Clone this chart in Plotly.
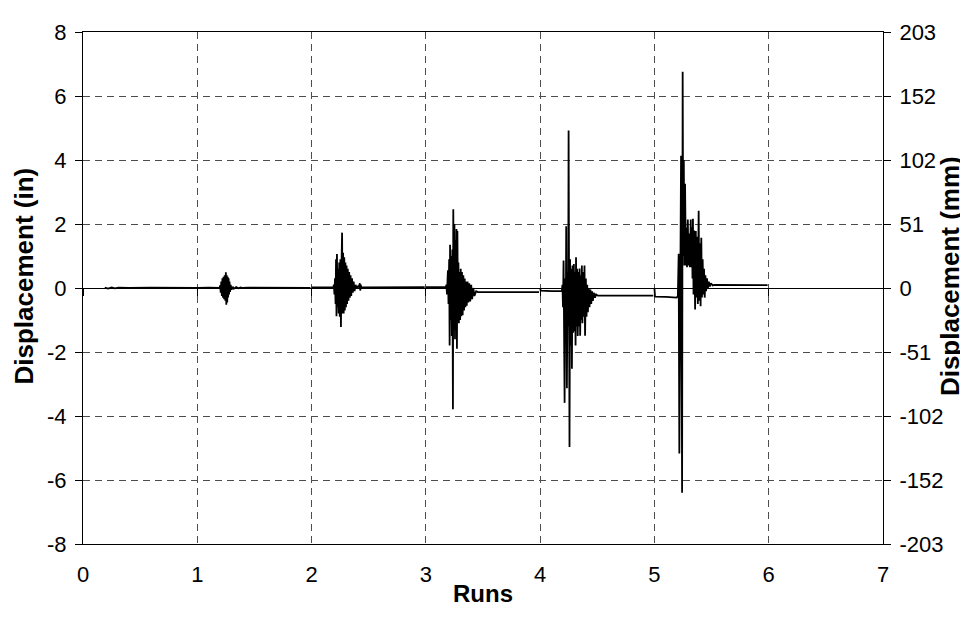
import plotly.graph_objects as go

# ---- data ----
run1_x = [0.190, 0.220, 0.250, 0.280, 0.310, 0.400, 0.600, 0.800, 1.000, 1.100, 1.195,
          1.200, 1.205, 1.210, 1.215, 1.220, 1.225, 1.230, 1.235, 1.240, 1.245, 1.250,
          1.254, 1.258, 1.262, 1.266, 1.270, 1.274, 1.278, 1.282, 1.287, 1.292, 1.300,
          1.310, 1.320, 1.340, 1.360, 1.380, 1.400, 1.440, 1.700, 1.990]
run1_y = [0.01, -0.02, 0.02, -0.01, 0.01, 0.00, 0.01, 0.00, 0.00, 0.01, 0.00,
          0.08, -0.15, 0.20, -0.25, 0.30, -0.30, 0.35, -0.35, 0.40, -0.40, 0.49,
          -0.52, 0.40, -0.45, 0.35, -0.30, 0.30, -0.20, 0.20, -0.12, 0.10, -0.05,
          0.04, -0.02, 0.03, -0.01, 0.02, 0.00, 0.01, 0.00, 0.00]

run2_x = [2.000, 2.100, 2.190, 2.195, 2.200, 2.205, 2.210, 2.214, 2.218, 2.222, 2.227,
          2.232, 2.237, 2.242, 2.247, 2.252, 2.257, 2.262, 2.267, 2.271, 2.276, 2.281,
          2.286, 2.291, 2.296, 2.301, 2.306, 2.311, 2.317, 2.323, 2.329, 2.335, 2.341,
          2.347, 2.354, 2.361, 2.368, 2.376, 2.385, 2.395, 2.405, 2.415, 2.422, 2.426,
          2.430, 2.436, 2.700, 2.850, 2.990]
run2_y = [0.02, 0.01, 0.02, 0.10, -0.20, 0.30, -0.50, 0.90, -0.88, 1.06, -0.60,
          0.60, -0.80, 0.80, -0.90, 0.90, -1.22, 0.70, 1.73, -0.80, 1.10, -0.80,
          0.96, -0.70, 0.80, -0.60, 0.70, -0.50, 0.60, -0.40, 0.50, -0.30, 0.40,
          -0.25, 0.30, -0.15, 0.20, -0.10, 0.10, 0.00, 0.05, 0.03, 0.15, -0.08,
          0.10, 0.02, 0.03, 0.02, 0.03]

run3_x = [3.000, 3.100, 3.175, 3.180, 3.185, 3.193, 3.198, 3.204, 3.208, 3.212, 3.217,
          3.222, 3.227, 3.232, 3.237, 3.240, 3.245, 3.250, 3.255, 3.260, 3.264, 3.268,
          3.272, 3.276, 3.281, 3.285, 3.289, 3.294, 3.300, 3.305, 3.310, 3.316, 3.322,
          3.328, 3.334, 3.340, 3.346, 3.352, 3.358, 3.365, 3.372, 3.380, 3.388, 3.397,
          3.405, 3.415, 3.425, 3.440, 3.456, 3.700, 3.850, 3.990]
run3_y = [0.03, 0.03, 0.03, 0.10, -0.20, 0.55, -0.50, 0.90, -1.80, 1.35, -1.00,
          1.00, -1.50, 1.20, -3.79, 2.46, -1.30, 2.00, -1.60, 1.50, -1.00, 1.84,
          -1.90, 1.78, -1.00, 0.80, -1.10, 0.50, -1.00, 0.60, -0.88, 0.50, -0.85,
          0.40, -0.70, 0.30, -0.60, 0.20, -0.55, 0.20, -0.45, 0.15, -0.42, 0.10,
          -0.35, 0.00, -0.25, -0.10, -0.13, -0.13, -0.12, -0.13]

run4_x = [4.000, 4.005, 4.100, 4.190, 4.195, 4.200, 4.205, 4.210, 4.214, 4.219, 4.224,
          4.228, 4.234, 4.240, 4.245, 4.249, 4.257, 4.262, 4.268, 4.273, 4.278, 4.283,
          4.289, 4.295, 4.300, 4.305, 4.310, 4.314, 4.319, 4.324, 4.329, 4.335, 4.340,
          4.345, 4.350, 4.356, 4.361, 4.365, 4.370, 4.377, 4.383, 4.388, 4.393, 4.400,
          4.406, 4.412, 4.418, 4.425, 4.432, 4.440, 4.447, 4.455, 4.461, 4.470, 4.480,
          4.490, 4.505, 4.700, 4.850, 4.990]
run4_y = [0.00, -0.08, -0.10, -0.10, 0.10, -0.60, 0.86, -1.20, -3.59, 0.30, -1.50,
          1.93, -3.13, 0.50, -1.20, 4.92, -4.97, 0.90, -1.80, 0.60, -2.52, 0.70,
          -1.40, 0.75, -1.35, 0.50, -1.80, 0.96, -1.20, 0.60, -1.50, 0.50, -1.20,
          0.61, -1.49, 0.40, -1.00, 0.70, -1.10, 0.50, -0.90, 0.70, -1.49, 0.30,
          -0.90, 0.10, -0.76, 0.00, -0.60, -0.05, -0.50, -0.10, -0.40, -0.15, -0.30,
          -0.20, -0.24, -0.24, -0.23, -0.24]

run5_x = [5.000, 5.005, 5.100, 5.195, 5.205, 5.212, 5.218, 5.225, 5.233, 5.238, 5.242,
          5.247, 5.252, 5.257, 5.262, 5.268, 5.275, 5.280, 5.285, 5.292, 5.298, 5.305,
          5.310, 5.318, 5.322, 5.328, 5.333, 5.337, 5.342, 5.348, 5.356, 5.362, 5.368,
          5.374, 5.380, 5.387, 5.393, 5.399, 5.404, 5.410, 5.416, 5.422, 5.428, 5.434,
          5.440, 5.446, 5.452, 5.460, 5.468, 5.476, 5.485, 5.495, 5.510, 5.524, 5.700,
          5.850, 5.990]
run5_y = [0.00, -0.27, -0.28, -0.30, -0.25, 1.07, -5.17, 0.90, 4.13, -1.50, -6.40,
          6.76, 1.00, 4.00, 0.70, 3.26, 0.70, 1.88, 0.65, 2.14, 0.70, 1.70,
          0.65, 2.14, 0.65, 1.90, 0.30, 2.16, -0.20, 1.80, -0.67, 1.78, -0.30,
          1.60, -0.50, 2.41, -0.40, 1.40, -0.57, 1.57, -0.30, 0.90, -0.20, 0.60,
          -0.30, 0.40, -0.10, 0.30, 0.00, 0.20, 0.05, 0.15, 0.08, 0.10, 0.09,
          0.10, 0.09]

runs = [(run1_x, run1_y), (run2_x, run2_y), (run3_x, run3_y), (run4_x, run4_y), (run5_x, run5_y)]

in_tickvals = [-8, -6, -4, -2, 0, 2, 4, 6, 8]
in_ticktext = ["-8", "-6", "-4", "-2", "0", "2", "4", "6", "8"]
mm_tickvals = [-203.2, -152.4, -101.6, -50.8, 0, 50.8, 101.6, 152.4, 203.2]
mm_ticktext = ["-203", "-152", "-102", "-51", "0", "51", "102", "152", "203"]
run_tickvals = [0, 1, 2, 3, 4, 5, 6, 7]

FONT = "Liberation Sans, Arial, sans-serif"
GRID = "#4d4d4d"

fig = go.Figure()
for rx, ry in runs:
    fig.add_trace(go.Scatter(x=rx, y=ry, mode="lines",
                             line=dict(color="black", width=1.8),
                             showlegend=False, hoverinfo="skip"))
# empty trace to bind the secondary axes
fig.add_trace(go.Scatter(x=[], y=[], xaxis="x2", yaxis="y2", showlegend=False))

fig.update_layout(
    width=960, height=622,
    margin=dict(l=75, r=85, t=15, b=86),
    paper_bgcolor="white", plot_bgcolor="white",
    font=dict(family=FONT, size=22, color="black"),
    xaxis=dict(range=[0, 7], tickvals=run_tickvals, showline=True, linecolor="black",
               linewidth=1, mirror=True, ticks="", showgrid=True, gridcolor=GRID,
               griddash="7px,5px", gridwidth=1, zeroline=False,
               ticklabelstandoff=11, tickfont=dict(size=22)),
    xaxis2=dict(range=[0, 7], tickvals=run_tickvals, overlaying="x", anchor="free",
                position=0.5, showline=True, linecolor="black", linewidth=1,
                ticks="outside", ticklen=7, tickcolor="black",
                showticklabels=False, showgrid=False, zeroline=False),
    yaxis=dict(range=[-8, 8], tickvals=in_tickvals, ticktext=in_ticktext,
               showline=True, linecolor="black",
               linewidth=1, ticks="outside", ticklen=7, tickcolor="black",
               showgrid=True, gridcolor=GRID, griddash="7px,5px", gridwidth=1,
               zeroline=False, ticklabelstandoff=4, tickfont=dict(size=22)),
    yaxis2=dict(range=[-203.2, 203.2], overlaying="y", side="right", anchor="x",
                tickvals=mm_tickvals, ticktext=mm_ticktext, showline=True,
                linecolor="black", linewidth=1, ticks="outside", ticklen=7,
                tickcolor="black", showgrid=False, zeroline=False,
                ticklabelstandoff=4, tickfont=dict(size=22)),
    annotations=[
        dict(text="<b>Runs</b>", xref="paper", yref="paper", x=0.5, y=-0.096,
             xanchor="center", yanchor="middle", showarrow=False,
             font=dict(size=24, family=FONT)),
        dict(text="<b>Displacement (in)</b>", xref="paper", yref="paper",
             x=-0.074, y=0.524, xanchor="center", yanchor="middle", textangle=-90,
             showarrow=False, font=dict(size=26, family=FONT)),
        dict(text="<b>Displacement (mm)</b>", xref="paper", yref="paper",
             x=1.083, y=0.524, xanchor="center", yanchor="middle", textangle=-90,
             showarrow=False, font=dict(size=26, family=FONT)),
    ],
)

fig.write_html("out.html")
